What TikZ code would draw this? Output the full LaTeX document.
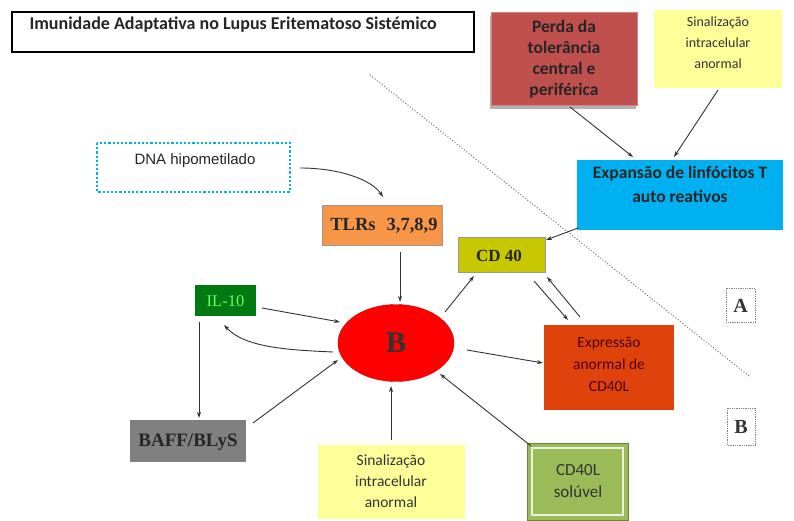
\documentclass[tikz,border=0pt]{standalone}
\usepackage{fontspec}
\setmainfont{Carlito}
\newfontfamily\serifb{Liberation Serif}
\newfontfamily\arialf{Liberation Sans}
\usetikzlibrary{arrows.meta,shapes.geometric,calc}
\definecolor{perda}{HTML}{C0504D}
\definecolor{lyel}{HTML}{FFFF99}
\definecolor{tblue}{HTML}{00B0F0}
\definecolor{tlr}{HTML}{F79646}
\definecolor{cdf}{HTML}{C8C800}
\definecolor{ilg}{HTML}{007A10}
\definecolor{expr}{HTML}{E0420C}
\definecolor{baff}{HTML}{808080}
\definecolor{solg}{HTML}{9BBB59}
\begin{document}
\begin{tikzpicture}[x=1pt,y=-1pt,
  box/.style={draw=none, inner sep=0pt, align=center},
  arr/.style={-{Stealth[length=6pt,width=4pt]}, draw=black!80, line width=0.9pt},
  shadowed/.style={preaction={fill=black!30, transform canvas={xshift=-1pt,yshift=-3pt}}}
]
\useasboundingbox (0,0) rectangle (794,521);
\fill[white] (0,0) rectangle (794,521);
% title
\draw[line width=1.5pt] (12,12) rectangle (474,52);
\node[anchor=west, font=\bfseries\fontsize{18}{20}\selectfont, text=black!85] (title) at (26,25) {Imunidade Adaptativa no Lupus Eritematoso Sistémico};
% dotted separator
\coordinate (d1) at (370,75);
\coordinate (d2) at (749,376);
\draw[black!55, line width=1pt, dotted] (d1) -- (d2);
% top boxes
\path[shadowed, fill=perda, draw=perda!70!white, line width=1pt] (491,13) rectangle (637,106);
\node[box, font=\bfseries\fontsize{17.5}{21}\selectfont, text=black!85] (perda) at (564,59) {Perda da\\tolerância\\central e\\periférica};
\path[fill=lyel] (654,10) rectangle (782,88);
\node[box, font=\fontsize{14}{21}\selectfont, text=black!80] (sin1) at (718,43) {Sinalização\\intracelular\\anormal};
\path[fill=tblue] (577,160) rectangle (783,230);
\node[box, font=\bfseries\fontsize{17.5}{24}\selectfont, text=black!85] (exp) at (680,184) {Expansão de linfócitos T\\auto reativos};
% DNA
\draw[tblue, line width=2.2pt, dotted] (97,143) rectangle (290,192);
\node[box, font=\arialf\fontsize{15}{17}\selectfont, text=black!85] (dna) at (195,161) {DNA hipometilado};
% TLRs
\path[fill=tlr, draw=black!40] (322,205) rectangle (442,245);
\node[box, font=\serifb\bfseries\fontsize{18.5}{20}\selectfont, text=black!85] (tlrs) at (384,226) {TLRs\hspace{0.6em}3,7,8,9};
% CD40
\path[fill=cdf, draw=black!40] (458,237) rectangle (545,272);
\node[box, font=\serifb\bfseries\fontsize{17}{20}\selectfont, text=black!85] (cd40) at (499,256) {CD 40};
% IL-10
\path[fill=ilg] (195,285) rectangle (256,316);
\node[box, font=\serifb\fontsize{16.5}{18}\selectfont, text=green!60!white] (il10) at (225.5,301) {IL-10};
% B
\node[ellipse, fill=red, draw=red!80!black, minimum width=116pt, minimum height=77pt, inner sep=0pt, font=\serifb\bfseries\fontsize{30}{32}\selectfont, text=black!80] (B) at (396,343) {B};
% Expressao
\path[fill=expr] (544,325) rectangle (674,410);
\node[box, font=\fontsize{15.5}{22}\selectfont, text=black!70!red] (exprn) at (609,364) {Expressão\\anormal de\\CD40L};
% BAFF
\path[fill=baff] (130,420) rectangle (246,462);
\node[box, font=\serifb\bfseries\fontsize{19}{21}\selectfont, text=black!85] (baffn) at (188,442) {BAFF/BLyS};
% Sinalizacao bottom
\path[fill=lyel] (318,445) rectangle (465,519);
\node[box, font=\fontsize{15.5}{21}\selectfont, text=black!80] (sin2) at (391,481) {Sinalização\\intracelular\\anormal};
% CD40L soluvel
\path[fill=solg, draw=solg!70!black, line width=1pt] (527,443) rectangle (628,520);
\draw[white!80!solg, line width=1.2pt] (532,448) rectangle (623,515);
\node[box, font=\fontsize{17}{22}\selectfont, text=black!80] (sol) at (578,481) {CD40L\\solúvel};
% A, B labels
\draw[black!50, densely dotted, line width=0.8pt] (726,288) rectangle (755,322);
\node[box, font=\serifb\bfseries\fontsize{20}{22}\selectfont, text=black!80] (labA) at (740.5,306) {A};
\draw[black!50, densely dotted, line width=0.8pt] (727,408) rectangle (755,445);
\node[box, font=\serifb\bfseries\fontsize{20}{22}\selectfont, text=black!80] (labB) at (741,427) {B};
% anchors for connectors
\coordinate (perdaB) at (570,107);
\coordinate (sin1B) at (718,90);
\coordinate (expT1) at (633,157);
\coordinate (expT2) at (674,157);
\coordinate (expL) at (578,228);
\coordinate (cd40R) at (546,240);
\coordinate (dnaR) at (300,168);
\coordinate (tlrT) at (383,197);
\coordinate (tlrB) at (400,252);
\coordinate (BT) at (400,302);
\coordinate (BNE) at (445,312);
\coordinate (cd40BL) at (474,276);
\coordinate (c1) at (534,281);
\coordinate (e1) at (568,320);
\coordinate (e2) at (580,317);
\coordinate (c2) at (547,277);
\coordinate (BR) at (467,350);
\coordinate (exL) at (543,363);
\coordinate (ilR) at (262,308);
\coordinate (BW1) at (340,322);
\coordinate (BW2) at (333,352);
\coordinate (ilLow) at (224,325);
\coordinate (ilB) at (199,322);
\coordinate (baffT) at (199,418);
\coordinate (baffR) at (253,423);
\coordinate (BSW) at (338,360);
\coordinate (sin2T) at (391,440);
\coordinate (BS) at (391,386);
\coordinate (solT) at (531,446);
\coordinate (BSE) at (440,374);
% connectors
\draw[arr] (perdaB) -- (expT1);
\draw[arr] (sin1B) -- (expT2);
\draw[arr] (expL) -- (cd40R);
\draw[arr] (dnaR) .. controls (340,168) and (372,180) .. (tlrT);
\draw[arr] (tlrB) -- (BT);
\draw[arr] (BNE) -- (cd40BL);
\draw[arr] (c1) -- (e1);
\draw[arr] (e2) -- (c2);
\draw[arr] (BR) -- (exL);
\draw[arr] (ilR) -- (BW1);
\draw[arr] (BW2) .. controls (290,350) and (245,348) .. (ilLow);
\draw[arr] (ilB) -- (baffT);
\draw[arr] (baffR) -- (BSW);
\draw[arr] (sin2T) -- (BS);
\draw[arr] (solT) -- (BSE);
\end{tikzpicture}
\end{document}
